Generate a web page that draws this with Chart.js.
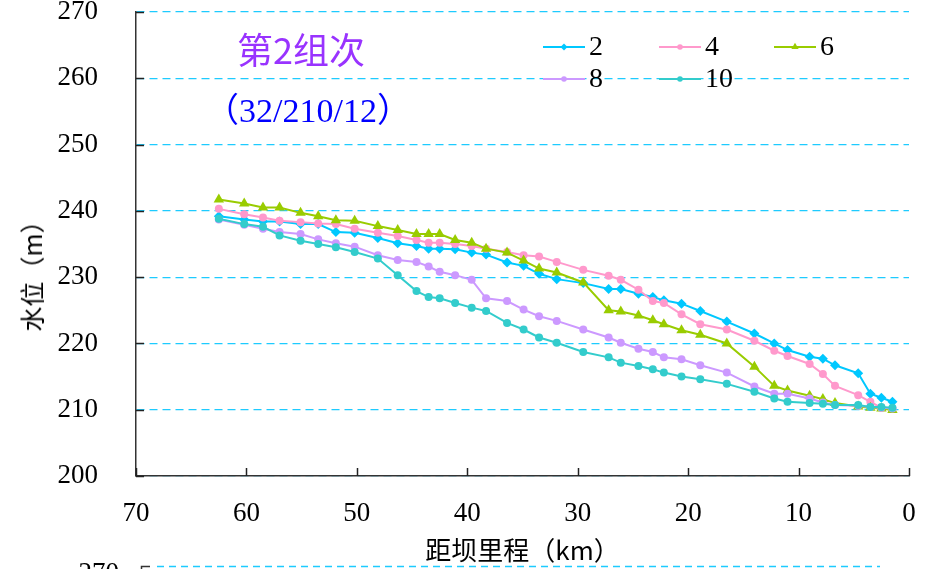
<!DOCTYPE html>
<html>
<head>
<meta charset="utf-8">
<script src="https://cdn.jsdelivr.net/npm/chart.js@4.4.1/dist/chart.umd.min.js"></script>
<style>
  html, body { margin: 0; padding: 0; background: #ffffff; }
  #wrap { position: relative; width: 928px; height: 569px; overflow: hidden; }
  canvas { position: absolute; left: 0; top: 0; }
  .note { position: absolute; white-space: nowrap; transform: translate(-50%, -50%); }
  #t1 { left: 301px; top: 48px; color: #9933FF; font: 36px "Noto Sans CJK SC", sans-serif; }
  #t2 { left: 308px; top: 107px; color: #0000FF; font: 34px "Liberation Serif", "Noto Sans CJK SC", serif; }
  #ytitle { left: 31px; top: 270px; color: #000; font: 25px "Noto Sans CJK SC", sans-serif; transform: translate(-50%, -50%) rotate(-90deg); }
</style>
</head>
<body>
<div id="wrap">
  <canvas id="c" width="928" height="569"></canvas>
  <div class="note" id="t1">第2组次</div>
  <div class="note" id="t2">（32/210/12）</div>
  <div class="note" id="ytitle">水位（m）</div>
</div>
<script>
// distance from dam (km)
const km = [62.5, 60.2, 58.5, 57.0, 55.1, 53.5, 51.9, 50.2, 48.1, 46.3, 44.6, 43.5, 42.5, 41.1, 39.6, 38.3, 36.4, 34.9, 33.5, 31.9, 29.5, 27.2, 26.1, 24.5, 23.2, 22.2, 20.6, 18.9, 16.5, 14.0, 12.2, 11.0, 9.0, 7.8, 6.7, 4.6, 3.5, 2.5, 1.5];

const seriesNames = ['2', '4', '6', '8', '10'];

const level2 = [239.2, 238.7, 238.4, 238.4, 238.0, 238.0, 236.8, 236.7, 235.9, 235.1, 234.7, 234.3, 234.3, 234.2, 233.7, 233.4, 232.2, 231.7, 230.5, 229.7, 229.1, 228.2, 228.2, 227.5, 227.0, 226.5, 226.0, 224.9, 223.3, 221.5, 220.0, 219.0, 218.0, 217.7, 216.7, 215.5, 212.4, 211.8, 211.2];
const level4 = [240.3, 239.5, 239.0, 238.5, 238.3, 238.1, 238.0, 237.3, 236.7, 236.2, 235.6, 235.2, 235.2, 235.0, 234.7, 234.3, 233.8, 233.3, 233.1, 232.3, 231.1, 230.2, 229.6, 228.1, 226.4, 226.1, 224.4, 222.9, 222.1, 220.4, 218.9, 218.1, 216.9, 215.4, 213.6, 212.2, 211.2, 210.3, 210.1];
const level6 = [241.7, 241.1, 240.5, 240.5, 239.7, 239.2, 238.6, 238.5, 237.7, 237.1, 236.5, 236.5, 236.5, 235.6, 235.2, 234.3, 233.7, 232.5, 231.3, 230.7, 229.2, 225.0, 224.8, 224.2, 223.5, 222.9, 222.0, 221.3, 220.0, 216.5, 213.6, 212.9, 212.1, 211.6, 211.0, 210.5, 210.3, 210.2, 209.95];
const level8 = [238.7, 237.9, 237.3, 236.8, 236.5, 235.7, 235.1, 234.6, 233.3, 232.6, 232.3, 231.6, 230.8, 230.3, 229.6, 226.8, 226.4, 225.1, 224.1, 223.4, 222.1, 220.9, 220.1, 219.2, 218.7, 217.9, 217.6, 216.7, 215.6, 213.5, 212.4, 212.4, 211.7, 211.1, 210.7, 210.6, 210.4, 210.3, 210.2];
const level10 = [238.8, 238.0, 237.6, 236.3, 235.5, 235.0, 234.5, 233.8, 232.8, 230.3, 227.9, 227.0, 226.8, 226.1, 225.4, 224.9, 223.1, 222.1, 220.9, 220.1, 218.7, 217.9, 217.1, 216.6, 216.1, 215.6, 215.0, 214.6, 213.9, 212.7, 211.7, 211.2, 211.0, 210.9, 210.7, 210.7, 210.4, 210.4, 210.3];

const xTicks = [0, 10, 20, 30, 40, 50, 60, 70];
const yTicks = [200, 210, 220, 230, 240, 250, 260, 270];

const colors = ['#00C8FF', '#FF99CC', '#99CC00', '#CC99FF', '#33CCCC'];
const styles = ['rectRot', 'circle', 'triangle', 'circle', 'circle'];
const radii = [5, 4, 6, 4, 4];

const allLevels = [level2, level4, level6, level8, level10];
const datasets = allLevels.map((lv, i) => ({
  label: seriesNames[i],
  data: km.map((k, j) => ({ x: k, y: lv[j] })),
  borderColor: colors[i],
  backgroundColor: colors[i],
  borderWidth: 2,
  pointStyle: styles[i],
  pointRadius: radii[i],
  pointBorderWidth: 0,
  tension: 0,
  order: 5 - i
}));

const serif = '"Liberation Serif", "Times New Roman", serif';

const inwardTicks = {
  id: 'inwardTicks',
  afterDatasetsDraw(chart) {
    const ctx = chart.ctx;
    const xs = chart.scales.x, ys = chart.scales.y;
    const a = chart.chartArea;
    ctx.save();
    ctx.strokeStyle = '#222';
    ctx.lineWidth = 1.5;
    ys.ticks.forEach(t => {
      const py = Math.round(ys.getPixelForValue(t.value)) + 0.5;
      ctx.beginPath(); ctx.moveTo(a.left, py); ctx.lineTo(a.left + 8, py); ctx.stroke();
    });
    xs.ticks.forEach(t => {
      const px = Math.round(xs.getPixelForValue(t.value)) + 0.5;
      ctx.beginPath(); ctx.moveTo(px, a.bottom); ctx.lineTo(px, a.bottom - 8); ctx.stroke();
    });
    ctx.restore();
  }
};

const customLegend = {
  id: 'customLegend',
  afterDraw(chart) {
    const ctx = chart.ctx;
    const cols = [543, 659, 774];
    const rows = [47, 79];
    ctx.save();
    chart.data.datasets.forEach((ds, i) => {
      const x0 = cols[i % 3], y0 = rows[Math.floor(i / 3)];
      ctx.strokeStyle = ds.borderColor;
      ctx.lineWidth = 2;
      ctx.beginPath(); ctx.moveTo(x0, y0); ctx.lineTo(x0 + 42, y0); ctx.stroke();
      ctx.fillStyle = ds.backgroundColor;
      Chart.helpers.drawPoint(ctx, { pointStyle: ds.pointStyle, radius: ds.pointRadius * 0.7, borderWidth: 0 }, x0 + 21, y0);
      ctx.fillStyle = '#000';
      ctx.font = '28px ' + serif;
      ctx.textAlign = 'left';
      ctx.textBaseline = 'middle';
      ctx.fillText(ds.label, x0 + 46, y0 + 1);
    });
    ctx.restore();
  }
};

// fragment of the next chart visible at the bottom edge
const nextChartEdge = {
  id: 'nextChartEdge',
  afterDraw(chart) {
    const ctx = chart.ctx;
    ctx.save();
    ctx.strokeStyle = '#1ECBFF';
    ctx.lineWidth = 1.5;
    ctx.setLineDash([7, 5]);
    ctx.beginPath(); ctx.moveTo(157, 566.5); ctx.lineTo(880, 566.5); ctx.stroke();
    ctx.setLineDash([]);
    ctx.strokeStyle = '#333';
    ctx.beginPath(); ctx.moveTo(141.5, 569); ctx.lineTo(141.5, 566.5); ctx.lineTo(150, 566.5); ctx.stroke();
    ctx.fillStyle = '#000';
    ctx.font = '27px ' + serif;
    ctx.textAlign = 'right';
    ctx.textBaseline = 'middle';
    ctx.fillText('270', 119, 574);
    ctx.restore();
  }
};

new Chart(document.getElementById('c'), {
  type: 'line',
  data: { datasets },
  options: {
    responsive: false,
    animation: false,
    layout: { padding: { top: 12, right: 19, left: 0, bottom: 0 } },
    plugins: { legend: { display: false }, tooltip: { enabled: false } },
    scales: {
      x: {
        type: 'linear',
        reverse: true,
        min: 0, max: 70,
        afterBuildTicks(s) { s.ticks = xTicks.map(v => ({ value: v })); },
        afterFit(s) { s.height = 93; s.paddingLeft = 0; s.paddingRight = 0; },
        grid: { display: false, drawTicks: false },
        border: { display: true, color: '#333', width: 1.5 },
        ticks: { padding: 24, color: '#000', font: { family: serif, size: 27, lineHeight: 1 }, maxRotation: 0, autoSkip: false },
        title: { display: true, text: '距坝里程（km）', color: '#000', font: { family: '"Noto Sans CJK SC", sans-serif', size: 26, lineHeight: 1.2 }, padding: { top: 0, bottom: 3 } }
      },
      y: {
        type: 'linear',
        min: 200, max: 270,
        afterBuildTicks(s) { s.ticks = yTicks.map(v => ({ value: v })); },
        afterFit(s) { s.width = 136; s.paddingTop = 0; s.paddingBottom = 0; },
        grid: { display: true, drawTicks: false, color: '#1ECBFF', lineWidth: 1.2, drawOnChartArea: true },
        border: { display: true, color: '#333', width: 1.5, dash: [8, 5], dashOffset: 0 },
        ticks: { padding: 38, color: '#000', font: { family: serif, size: 27, lineHeight: 1 } },
        title: { display: false }
      }
    }
  },
  plugins: [inwardTicks, customLegend, nextChartEdge]
});
</script>
</body>
</html>
